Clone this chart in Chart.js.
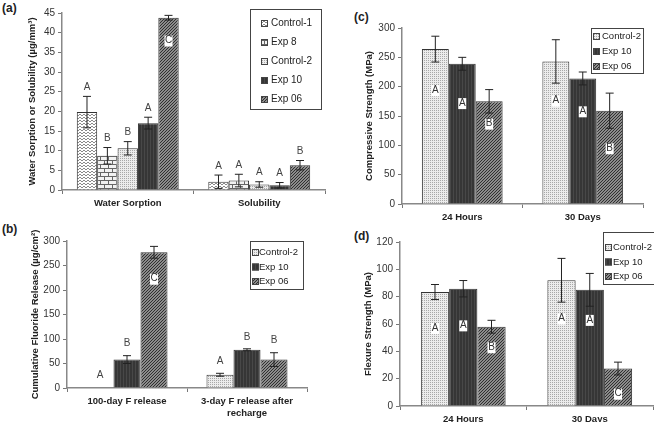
<!DOCTYPE html>
<html>
<head>
<meta charset="utf-8">
<script src="https://cdn.jsdelivr.net/npm/chart.js@4.4.1/dist/chart.umd.min.js"></script>
<style>
body { margin: 0; background: #fff; width: 654px; height: 422px; position: relative; overflow: hidden; font-family: 'Liberation Sans', Arial, sans-serif; }
canvas { position: absolute; left: 0; top: 0; }
.tag { position: absolute; font-weight: bold; font-size: 12px; color: #222; }
</style>
</head>
<body>
<div class="tag" style="left:2px;top:1px">(a)</div>
<div class="tag" style="left:2px;top:222px">(b)</div>
<div class="tag" style="left:354px;top:10px">(c)</div>
<div class="tag" style="left:354px;top:229px">(d)</div>
<canvas id="chartA" width="654" height="422"></canvas>
<canvas id="chartB" width="654" height="422"></canvas>
<canvas id="chartC" width="654" height="422"></canvas>
<canvas id="chartD" width="654" height="422"></canvas>
<script>
// (a) water sorption / solubility
const catsA = ['Water Sorption', 'Solubility'];
const seriesA = ['Control-1', 'Exp 8', 'Control-2', 'Exp 10', 'Exp 06'];
const meanA = [[19.8, 2.1], [8.7, 2.4], [10.6, 1.4], [17.0, 1.2], [43.8, 6.3]];
const errA = [[4.0, 1.7], [2.1, 1.6], [1.7, 0.7], [1.5, 0.7], [0.6, 1.2]];
const letterA = [['A', 'A'], ['B', 'A'], ['B', 'A'], ['A', 'A'], ['C', 'B']];
const insideA = [[null, null], [null, null], [null, null], [null, null], [38, null]];

// (b) fluoride release
const catsB = ['100-day F release', ['3-day F release after', 'recharge']];
const seriesB = ['Control-2', 'Exp 10', 'Exp 06'];
const meanB = [[1, 27], [58, 78], [277, 58]];
const errB = [[0, 3], [8, 2], [12, 14]];
const letterB = [['A', 'A'], ['B', 'B'], ['C', 'B']];
const insideB = [[null, null], [null, null], [223, null]];

// (c) compressive strength
const catsC = ['24 Hours', '30 Days'];
const seriesC = ['Control-2', 'Exp 10', 'Exp 06'];
const meanC = [[264, 243], [239, 214], [175, 159]];
const errC = [[22, 37], [11, 11], [20, 30]];
const letterC = [['A', 'A'], ['A', 'A'], ['B', 'B']];
const insideC = [[194, 176], [172, 158], [137, 95]];

// (d) flexure strength
const catsD = ['24 Hours', '30 Days'];
const seriesD = ['Control-2', 'Exp 10', 'Exp 06'];
const meanD = [[83.4, 92], [85.8, 85], [58, 27.4]];
const errD = [[5.5, 16], [6, 12], [4.7, 4.7]];
const letterD = [['A', 'A'], ['A', 'A'], ['B', 'C']];
const insideD = [[57, 64], [59, 63], [43, 9]];

Chart.defaults.font.family = "'Liberation Sans', Arial, sans-serif";
Chart.defaults.color = '#333';
Chart.defaults.animation = false;

function tile(w, h, draw) {
	let c = document.createElement('canvas');
	c.width = w; c.height = h;
	let g = c.getContext('2d');
	draw(g);
	return g.createPattern(c, 'repeat');
}

const fills = {
	'Control-1': tile(4, 3, g => {
		g.fillStyle = '#fff'; g.fillRect(0, 0, 4, 3);
		g.fillStyle = '#8a8a8a';
		g.fillRect(0, 0, 1, 1); g.fillRect(1, 1, 1, 1); g.fillRect(2, 1, 1, 1); g.fillRect(3, 0, 1, 1);
	}),
	'Exp 8': tile(8, 8, g => {
		g.fillStyle = '#f2f2f2'; g.fillRect(0, 0, 8, 8);
		g.fillStyle = '#666';
		g.fillRect(0, 0, 8, 1); g.fillRect(0, 4, 8, 1);
		g.fillRect(0, 0, 1, 4); g.fillRect(4, 4, 1, 4);
	}),
	'Control-2': tile(2, 2, g => {
		g.fillStyle = '#ececec'; g.fillRect(0, 0, 2, 2);
		g.fillStyle = '#a8a8a8'; g.fillRect(0, 0, 1, 1);
	}),
	'Exp 10': tile(3, 2, g => {
		g.fillStyle = '#363636'; g.fillRect(0, 0, 3, 2);
		g.fillStyle = '#484848'; g.fillRect(0, 0, 1, 2);
	}),
	'Exp 06': tile(3, 3, g => {
		g.fillStyle = '#8c8c8c'; g.fillRect(0, 0, 3, 3);
		g.fillStyle = '#303030';
		for (let i = 0; i < 3; i++) g.fillRect(2 - i, i, 1, 1);
	}),
};

// error bars and significance letters, placed through the chart's scales
const markPlugin = {
	id: 'marks',
	afterDatasetsDraw(chart, args, opts) {
		const ctx = chart.ctx;
		const y = chart.scales.y;
		ctx.save();
		chart.data.datasets.forEach((ds, i) => {
			chart.getDatasetMeta(i).data.forEach((bar, j) => {
				const m = ds.data[j], e = opts.err[i][j];
				const yt = y.getPixelForValue(m + e);
				if (e > 0) {
					const yb = y.getPixelForValue(m - e);
					ctx.strokeStyle = '#222';
					ctx.lineWidth = 1;
					ctx.beginPath();
					ctx.moveTo(bar.x, yt); ctx.lineTo(bar.x, yb);
					ctx.moveTo(bar.x - 4, yt); ctx.lineTo(bar.x + 4, yt);
					ctx.moveTo(bar.x - 4, yb); ctx.lineTo(bar.x + 4, yb);
					ctx.stroke();
				}
				const txt = opts.letters[i][j];
				const inside = opts.inside[i][j];
				ctx.font = '10px ' + Chart.defaults.font.family;
				ctx.textAlign = 'center';
				ctx.textBaseline = 'middle';
				if (inside != null) {
					const ly = y.getPixelForValue(inside);
					ctx.fillStyle = '#fff';
					ctx.fillRect(bar.x - 4, ly - 5, 8, 11);
					ctx.fillStyle = '#333';
					ctx.fillText(txt, bar.x, ly);
				} else {
					ctx.fillStyle = '#444';
					ctx.fillText(txt, bar.x, yt - opts.gap);
				}
			});
		});
		ctx.restore();
	}
};

const boxLegend = {
	id: 'boxLegend',
	afterDraw(chart, args, o) {
		const ctx = chart.ctx;
		ctx.save();
		ctx.fillStyle = '#fff';
		ctx.fillRect(o.x, o.y, o.w, o.h);
		ctx.strokeStyle = '#444';
		ctx.lineWidth = 1;
		ctx.strokeRect(o.x + 0.5, o.y + 0.5, o.w, o.h);
		ctx.font = o.size + 'px ' + Chart.defaults.font.family;
		ctx.textBaseline = 'middle';
		ctx.textAlign = 'left';
		chart.data.datasets.forEach((ds, i) => {
			const cy = o.y0 + i * o.step;
			ctx.fillStyle = ds.backgroundColor;
			ctx.fillRect(o.sx, cy - 3, 7, 7);
			ctx.strokeStyle = '#444';
			ctx.strokeRect(o.sx + 0.5, cy - 3 + 0.5, 6, 6);
			ctx.fillStyle = '#222';
			ctx.fillText(ds.label, o.tx, cy + 0.5);
		});
		ctx.restore();
	}
};

function panel(id, p) {
	const datasets = p.series.map((s, i) => ({
		label: s,
		data: p.mean[i],
		backgroundColor: fills[s],
		borderColor: '#333',
		borderWidth: 1,
		barPercentage: 1,
		categoryPercentage: p.catPct,
	}));
	const yW = p.area.l - p.titleLeft;
	return new Chart(document.getElementById(id), {
		type: 'bar',
		data: { labels: p.cats, datasets: datasets },
		options: {
			responsive: false,
			layout: { padding: {
				left: p.titleLeft,
				right: 654 - p.area.r,
				top: p.area.t,
				bottom: 422 - p.area.b - p.xH,
			} },
			plugins: {
				legend: { display: false },
				tooltip: { enabled: false },
				marks: { err: p.err, letters: p.letters, inside: p.inside, gap: p.gap },
				boxLegend: p.legend,
			},
			scales: {
				x: {
					afterFit: s => { s.height = p.xH; },
					grid: { display: true, drawOnChartArea: false, offset: true, tickLength: 4, color: '#777' },
					border: { color: '#888', width: 1.5 },
					ticks: { font: { size: 9.5, weight: 'bold' }, color: '#222', padding: 4, maxRotation: 0 },
				},
				y: {
					min: 0, max: p.yMax,
					afterFit: s => { s.width = yW; },
					grid: { display: true, drawOnChartArea: false, tickLength: 4, color: '#777' },
					border: { color: '#888', width: 1.5 },
					ticks: { stepSize: p.yStep, font: { size: 10 }, color: '#333', padding: 3 },
					title: { display: true, text: p.yTitle, font: { size: 9.5, weight: 'bold' }, color: '#222', padding: 0 },
				},
			},
		},
		plugins: [markPlugin, boxLegend],
	});
}

panel('chartA', {
	cats: catsA, series: seriesA, mean: meanA, err: errA, letters: letterA, inside: insideA,
	yMax: 45, yStep: 5, yTitle: 'Water Sorption or Solubility (\u00b5g/mm\u00b3)',
	area: { l: 62, r: 325, t: 13, b: 190 }, titleLeft: 27, xH: 22, catPct: 0.775, gap: 9,
	legend: { x: 250, y: 9, w: 71, h: 100, y0: 23, step: 19, sx: 261, tx: 271, size: 10 },
});

panel('chartB', {
	cats: catsB, series: seriesB, mean: meanB, err: errB, letters: letterB, inside: insideB,
	yMax: 300, yStep: 50, yTitle: 'Cumulative Fluoride Release (\u00b5g/cm\u00b2)',
	area: { l: 67, r: 307, t: 241, b: 388 }, titleLeft: 30, xH: 32, catPct: 0.675, gap: 12,
	legend: { x: 250, y: 241, w: 53, h: 48, y0: 252, step: 14.5, sx: 252, tx: 259, size: 9.5 },
});

panel('chartC', {
	cats: catsC, series: seriesC, mean: meanC, err: errC, letters: letterC, inside: insideC,
	yMax: 300, yStep: 50, yTitle: 'Compressive Strength (MPa)',
	area: { l: 402, r: 643, t: 28, b: 204 }, titleLeft: 364, xH: 22, catPct: 0.67, gap: 10,
	legend: { x: 591, y: 28, w: 52, h: 45, y0: 36, step: 15, sx: 593, tx: 602, size: 9.5 },
});

panel('chartD', {
	cats: catsD, series: seriesD, mean: meanD, err: errD, letters: letterD, inside: insideD,
	yMax: 120, yStep: 20, yTitle: 'Flexure Strength (MPa)',
	area: { l: 400, r: 653, t: 242, b: 406 }, titleLeft: 363, xH: 16, catPct: 0.67, gap: 10,
	legend: { x: 603, y: 232, w: 55, h: 52, y0: 247, step: 14.5, sx: 605, tx: 613, size: 9.5 },
});
</script>
</body>
</html>
